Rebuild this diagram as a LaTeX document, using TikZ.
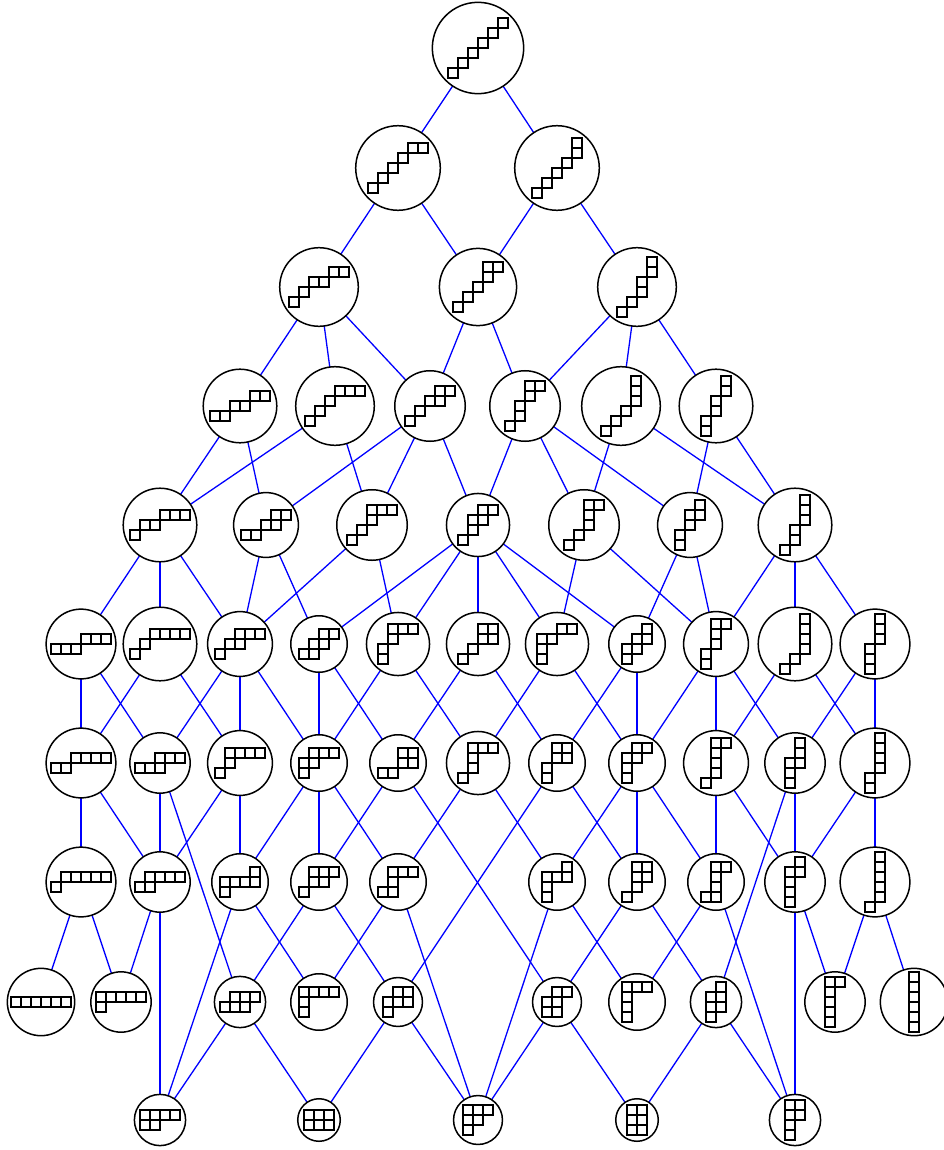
\documentclass[tikz,border=0pt]{standalone}
\usetikzlibrary{backgrounds}
\tikzset{
  yd/.style={circle, draw=black, line width=1.5pt, inner sep=0pt, outer sep=0pt},
  cellbox/.style={draw=black, line width=1.3pt},
  lnk/.style={draw=blue, line width=1.3pt},
}
\newcommand{\shp}[6]{%
  \pgfmathsetmacro{\circd}{veclen(10*#4,10*#5)+6.5}%
  \node[yd, minimum size=\circd pt] (#1) at (#2,#3) {};%
  \foreach \ci/\cj in {#6} {\draw[cellbox] ({#2+(\ci-#4/2)*10},{#3+(#5/2-\cj)*10}) rectangle ++(10,-10);}%
}
\begin{document}
\begin{tikzpicture}[x=1pt,y=-1pt]
\useasboundingbox (0,0) rectangle (943,1150);
% row 1
\shp{A}{478}{48}{6}{6}{0/0,1/1,2/2,3/3,4/4,5/5}
% row 2
\shp{B1}{398}{168}{6}{5}{0/0,1/1,2/2,3/3,4/4,5/4}
\shp{B2}{557}{168}{5}{6}{0/0,1/1,2/2,3/3,4/4,4/5}
% row 3
\shp{C1}{319}{287}{6}{4}{0/0,1/1,2/2,3/2,4/3,5/3}
\shp{C2}{478}{287}{5}{5}{0/0,1/1,2/2,3/3,3/4,4/4}
\shp{C3}{637}{287}{4}{6}{0/0,1/1,2/2,2/3,3/4,3/5}
% row 4
\shp{D1}{240}{406}{6}{3}{0/0,1/0,2/1,3/1,4/2,5/2}
\shp{D2}{335}{406}{6}{4}{0/0,1/1,2/2,3/3,4/3,5/3}
\shp{D3}{430}{406}{5}{4}{0/0,1/1,2/2,3/2,3/3,4/3}
\shp{D4}{525}{406}{4}{5}{0/0,1/1,1/2,2/3,2/4,3/4}
\shp{D5}{621}{406}{4}{6}{0/0,1/1,2/2,3/3,3/4,3/5}
\shp{D6}{716}{406}{3}{6}{0/0,0/1,1/2,1/3,2/4,2/5}
% row 5
\shp{E1}{160}{525}{6}{3}{0/0,1/1,2/1,3/2,4/2,5/2}
\shp{E2}{266}{525}{5}{3}{0/0,1/0,2/1,3/1,3/2,4/2}
\shp{E3}{372}{525}{5}{4}{0/0,1/1,2/2,2/3,3/3,4/3}
\shp{E4}{478}{525}{4}{4}{0/0,1/1,1/2,2/2,2/3,3/3}
\shp{E5}{584}{525}{4}{5}{0/0,1/1,2/2,2/3,2/4,3/4}
\shp{E6}{690}{525}{3}{5}{0/0,0/1,1/2,1/3,2/3,2/4}
\shp{E7}{795}{525}{3}{6}{0/0,1/1,1/2,2/3,2/4,2/5}
% row 6
\shp{F1}{81}{644}{6}{2}{0/0,1/0,2/0,3/1,4/1,5/1}
\shp{F2}{160}{644}{6}{3}{0/0,1/1,2/2,3/2,4/2,5/2}
\shp{F3}{240}{644}{5}{3}{0/0,1/1,2/1,2/2,3/2,4/2}
\shp{F4}{319}{644}{4}{3}{0/0,1/0,1/1,2/1,2/2,3/2}
\shp{F5}{398}{644}{4}{4}{0/0,0/1,1/2,1/3,2/3,3/3}
\shp{F6}{478}{644}{4}{4}{0/0,1/1,2/2,3/2,2/3,3/3}
\shp{F7}{557}{644}{4}{4}{0/0,0/1,0/2,1/2,2/3,3/3}
\shp{F8}{637}{644}{3}{4}{0/0,0/1,1/1,1/2,2/2,2/3}
\shp{F9}{716}{644}{3}{5}{0/0,0/1,1/2,1/3,1/4,2/4}
\shp{F10}{795}{644}{3}{6}{0/0,1/1,2/2,2/3,2/4,2/5}
\shp{F11}{875}{644}{2}{6}{0/0,0/1,0/2,1/3,1/4,1/5}
% row 7
\shp{G1}{81}{763}{6}{2}{0/0,1/0,2/1,3/1,4/1,5/1}
\shp{G2}{160}{763}{5}{2}{0/0,1/0,2/0,2/1,3/1,4/1}
\shp{G3}{240}{763}{5}{3}{0/0,1/1,1/2,2/2,3/2,4/2}
\shp{G4}{319}{763}{4}{3}{0/0,0/1,1/1,1/2,2/2,3/2}
\shp{G5}{398}{763}{4}{3}{0/0,1/0,2/1,3/1,2/2,3/2}
\shp{G6}{478}{763}{4}{4}{0/0,1/1,1/2,1/3,2/3,3/3}
\shp{G7}{557}{763}{3}{4}{0/0,0/1,1/2,2/2,1/3,2/3}
\shp{G8}{637}{763}{3}{4}{0/0,0/1,0/2,1/2,1/3,2/3}
\shp{G9}{716}{763}{3}{5}{0/0,1/1,1/2,1/3,1/4,2/4}
\shp{G10}{795}{763}{2}{5}{0/0,0/1,0/2,1/2,1/3,1/4}
\shp{G11}{875}{763}{2}{6}{0/0,0/1,1/2,1/3,1/4,1/5}
% row 8
\shp{H1}{81}{882}{6}{2}{0/0,1/1,2/1,3/1,4/1,5/1}
\shp{H2}{160}{882}{5}{2}{0/0,1/0,1/1,2/1,3/1,4/1}
\shp{H3}{240}{882}{4}{3}{0/0,0/1,1/1,2/1,3/1,3/2}
\shp{H4}{319}{882}{4}{3}{0/0,1/1,2/1,1/2,2/2,3/2}
\shp{H5}{398}{882}{4}{3}{0/0,1/0,1/1,1/2,2/2,3/2}
\shp{H6}{557}{882}{3}{4}{0/0,0/1,0/2,1/2,2/2,2/3}
\shp{H7}{637}{882}{3}{4}{0/0,1/1,1/2,2/2,1/3,2/3}
\shp{H8}{716}{882}{3}{4}{0/0,1/0,1/1,1/2,1/3,2/3}
\shp{H9}{795}{882}{2}{5}{0/0,0/1,0/2,0/3,1/3,1/4}
\shp{H10}{875}{882}{2}{6}{0/0,1/1,1/2,1/3,1/4,1/5}
% row 9
\shp{I1}{41}{1002}{6}{1}{0/0,1/0,2/0,3/0,4/0,5/0}
\shp{I2}{121}{1002}{5}{2}{0/0,0/1,1/1,2/1,3/1,4/1}
\shp{I3}{240}{1002}{4}{2}{0/0,1/0,2/0,1/1,2/1,3/1}
\shp{I4}{319}{1002}{4}{3}{0/0,0/1,0/2,1/2,2/2,3/2}
\shp{I5}{398}{1002}{3}{3}{0/0,0/1,1/1,2/1,1/2,2/2}
\shp{I6}{557}{1002}{3}{3}{0/0,1/0,0/1,1/1,1/2,2/2}
\shp{I7}{637}{1002}{3}{4}{0/0,0/1,0/2,0/3,1/3,2/3}
\shp{I8}{716}{1002}{2}{4}{0/0,0/1,1/1,0/2,1/2,1/3}
\shp{I9}{835}{1002}{2}{5}{0/0,0/1,0/2,0/3,0/4,1/4}
\shp{I10}{914}{1002}{1}{6}{0/0,0/1,0/2,0/3,0/4,0/5}
% row 10
\shp{J1}{160}{1120}{4}{2}{0/0,1/0,0/1,1/1,2/1,3/1}
\shp{J2}{319}{1120}{3}{2}{0/0,1/0,2/0,0/1,1/1,2/1}
\shp{J3}{478}{1120}{3}{3}{0/0,0/1,1/1,0/2,1/2,2/2}
\shp{J4}{637}{1120}{2}{3}{0/0,1/0,0/1,1/1,0/2,1/2}
\shp{J5}{795}{1120}{2}{4}{0/0,0/1,0/2,1/2,0/3,1/3}
\begin{pgfonlayer}{background}
\foreach \a/\b in {A/B1,A/B2,
  B1/C1,B1/C2,B2/C2,B2/C3,
  C1/D1,C1/D2,C1/D3,C2/D3,C2/D4,C3/D4,C3/D5,C3/D6,
  D1/E1,D1/E2,D2/E1,D2/E3,D3/E2,D3/E3,D3/E4,D4/E4,D4/E5,D4/E6,D5/E5,D5/E7,D6/E6,D6/E7,
  E1/F1,E1/F2,E1/F3,E2/F3,E2/F4,E3/F3,E3/F5,E4/F4,E4/F5,E4/F6,E4/F7,E4/F8,E5/F7,E5/F9,E6/F8,E6/F9,E7/F9,E7/F10,E7/F11,
  F1/G1,F1/G2,F2/G1,F2/G3,F3/G2,F3/G3,F3/G4,F4/G4,F4/G5,F5/G4,F5/G6,F6/G5,F6/G7,F7/G6,F7/G8,F8/G7,F8/G8,F9/G8,F9/G9,F9/G10,F10/G9,F10/G11,F11/G10,F11/G11,
  G1/H1,G1/H2,G2/H2,G2/I3,G3/H2,G3/H3,G4/H3,G4/H4,G4/H5,G5/H4,G5/I6,G6/H5,G6/H6,G7/H7,G7/I5,G8/H6,G8/H7,G8/H8,G9/H8,G9/H9,G10/H9,G10/I8,G11/H9,G11/H10,
  H1/I1,H1/I2,H2/I2,H2/J1,H3/J1,H3/I4,H4/I3,H4/I5,H5/I4,H5/J3,H6/J3,H6/I7,H7/I6,H7/I8,H8/I7,H8/J5,H9/J5,H9/I9,H10/I9,H10/I10,
  I3/J1,I3/J2,I5/J2,I5/J3,I6/J3,I6/J4,I8/J4,I8/J5}
  {\draw[lnk] (\a) -- (\b);}
\end{pgfonlayer}
\end{tikzpicture}
\end{document}
